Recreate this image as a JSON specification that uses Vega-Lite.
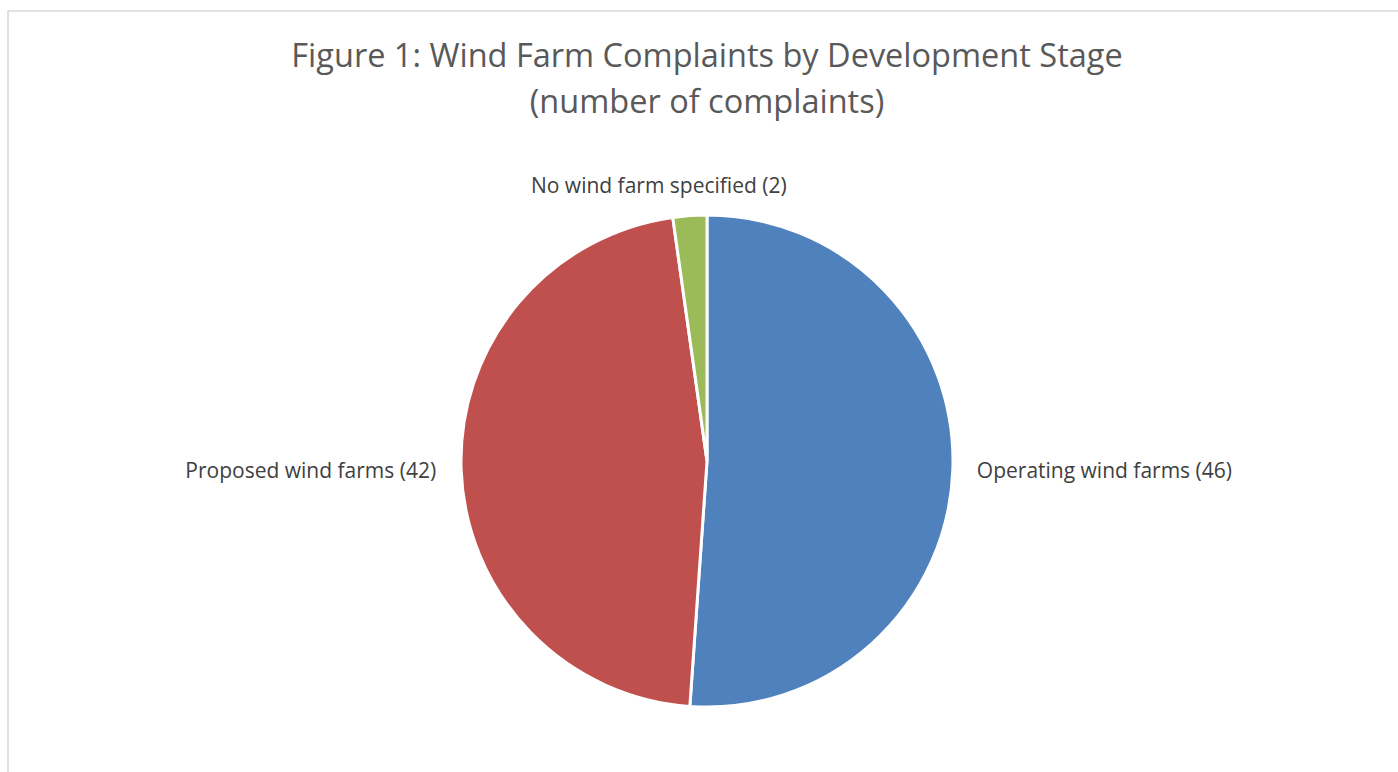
{
  "$schema": "https://vega.github.io/schema/vega-lite/v6.json",
  "autosize": "none",
  "padding": {"left": 8, "top": 11, "right": 0, "bottom": 0},
  "width": 1398,
  "height": 900,
  "background": "white",
  "config": {"view": {"stroke": null}},
  "title": {
    "text": ["Figure 1: Wind Farm Complaints by Development Stage", "(number of complaints)"],
    "frame": "group",
    "anchor": "middle",
    "baseline": "alphabetic",
    "offset": -135,
    "lineHeight": 46,
    "font": "Open Sans",
    "fontSize": 32.5,
    "fontWeight": "normal",
    "color": "#595959"
  },
  "layer": [
    {
      "data": {"values": [{}]},
      "mark": {"type": "rect", "fill": "white", "stroke": "#d9d9d9", "strokeWidth": 1.5}
    },
    {
      "data": {
        "values": [
          {"stage": "Operating wind farms", "count": 46, "order": 1, "label": "Operating wind farms (46)"},
          {"stage": "Proposed wind farms", "count": 42, "order": 2, "label": "Proposed wind farms (42)"},
          {"stage": "No wind farm specified", "count": 2, "order": 3, "label": "No wind farm specified (2)"}
        ]
      },
      "encoding": {
        "theta": {"field": "count", "type": "quantitative", "stack": true},
        "order": {"field": "order", "type": "quantitative"}
      },
      "layer": [
        {
          "mark": {"type": "arc", "outerRadius": 246, "stroke": "white", "strokeWidth": 3},
          "encoding": {
            "color": {
              "field": "stage", "type": "nominal", "legend": null,
              "scale": {"domain": ["Operating wind farms", "Proposed wind farms", "No wind farm specified"], "range": ["#4F81BD", "#C0504D", "#9BBB59"]}
            }
          }
        },
        {
          "mark": {"type": "text", "radius": 270, "dy": 2, "align": "left", "baseline": "middle", "font": "Open Sans", "fontSize": 21, "color": "#404040"},
          "encoding": {
            "text": {"condition": {"test": "datum.order == 1", "field": "label"}, "value": ""}
          }
        },
        {
          "mark": {"type": "text", "radius": 271, "dy": 2, "align": "right", "baseline": "middle", "font": "Open Sans", "fontSize": 21, "color": "#404040"},
          "encoding": {
            "text": {"condition": {"test": "datum.order == 2", "field": "label"}, "value": ""}
          }
        },
        {
          "mark": {"type": "text", "radius": 275, "dx": -29, "align": "center", "baseline": "middle", "font": "Open Sans", "fontSize": 21, "color": "#404040"},
          "encoding": {
            "text": {"condition": {"test": "datum.order == 3", "field": "label"}, "value": ""}
          }
        }
      ]
    }
  ]
}
